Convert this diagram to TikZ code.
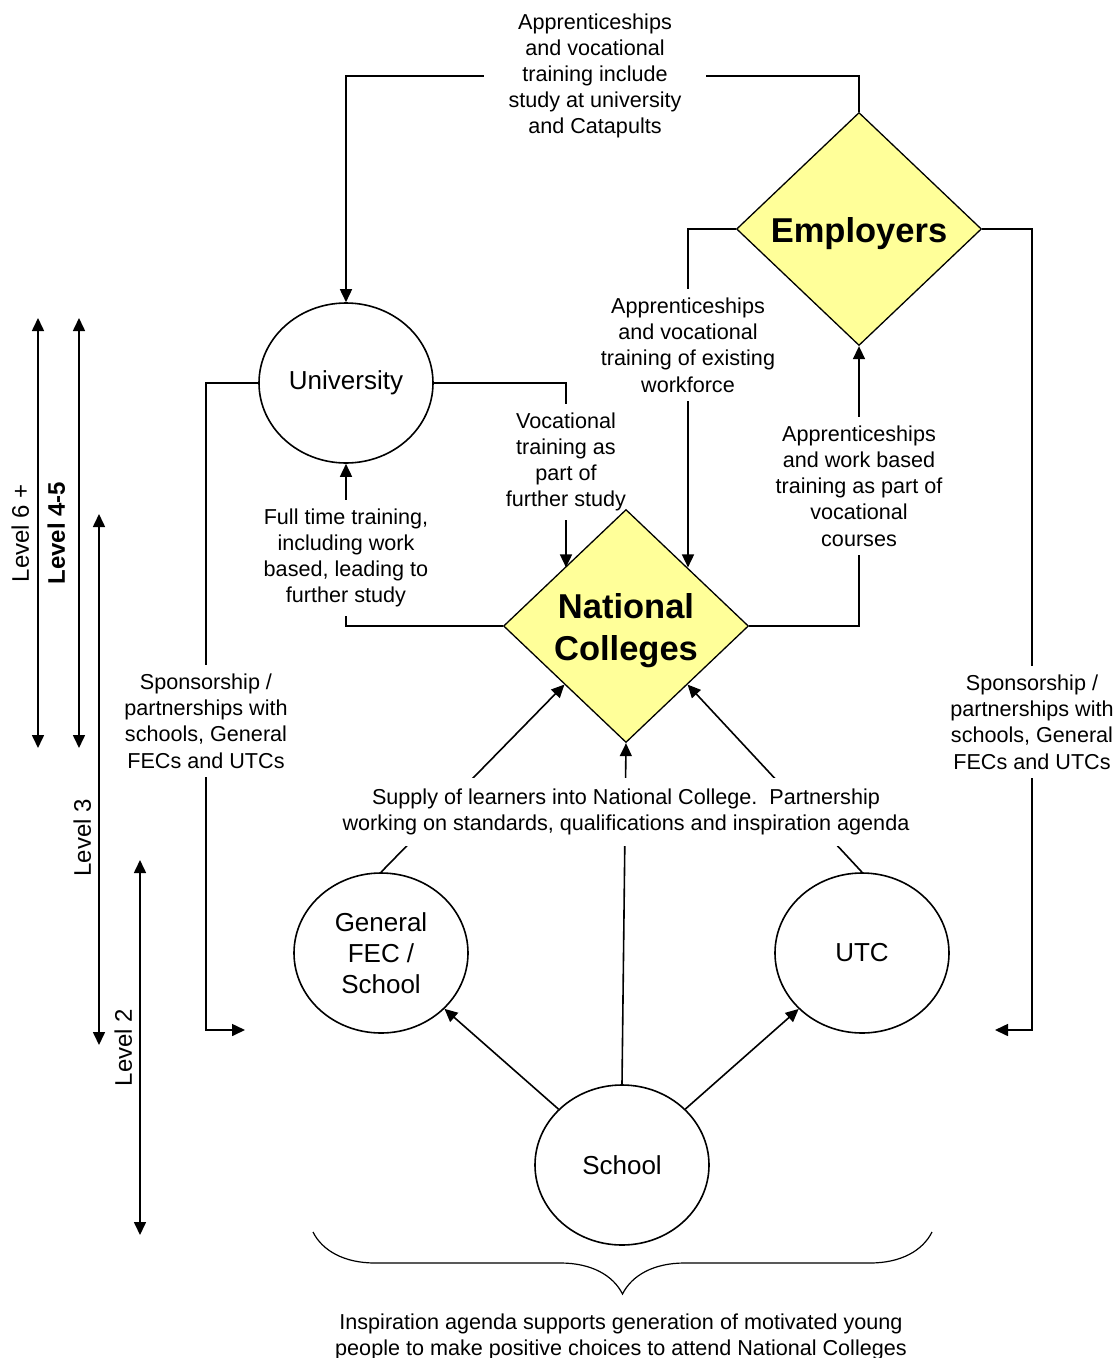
\documentclass[tikz,border=0pt]{standalone}
\usepackage{fontspec}
\setmainfont{Liberation Sans}
\definecolor{hubyellow}{RGB}{255, 255, 153}
\usetikzlibrary{shapes.geometric, arrows.meta, positioning, calc, decorations.pathreplacing}
\newcommand{\hubstrut}{\rule{0pt}{34pt}}

\begin{document}
\begin{tikzpicture}[x=1pt, y=-1pt, line width=1.6pt, >={Triangle[length=13pt, width=12pt]},
    place/.style={draw, ellipse, fill=white, minimum width=174pt, minimum height=160pt, inner sep=0pt, align=center, font=\fontsize{26}{31}\selectfont},
    hub/.style={draw, diamond, fill=hubyellow, line width=1.3pt, aspect=1.05, minimum width=245pt, minimum height=233pt, inner sep=0pt, align=center,
      font=\fontsize{34.5}{42}\selectfont\bfseries},
    lbl/.style={align=center, inner ysep=8pt, font=\fontsize{21.6}{26.2}\selectfont},
    lvl/.style={rotate=90, above, inner xsep=2pt, font=\fontsize{24}{28}\selectfont}]
  \useasboundingbox (0,0) rectangle (1118,1358);

  % main nodes
  \node[hub] (emp) at (859,229) {\hubstrut Employers};
  \node[hub] (nc) at (626,626) {\hubstrut National\\Colleges};
  \node[place] (uni) at (346,383) {University};
  \node[place] (genfec) at (381,953) {General\\FEC /\\School};
  \node[place] (utc) at (862,953) {UTC};
  \node[place] (school) at (622,1165) {School};

  % labels on the connectors
  \node[lbl, inner xsep=24pt] (toplbl) at (595,76) {Apprenticeships\\and vocational\\training include\\study at university\\and Catapults};
  \node[lbl] (work) at (688,345) {Apprenticeships\\and vocational\\training of existing\\workforce};
  \node[lbl] (voc) at (566,462) {Vocational\\training as\\part of\\further study};
  \node[lbl] (full) at (346,558) {Full time training,\\including work\\based, leading to\\further study};
  \node[lbl] (appr) at (859,486) {Apprenticeships\\and work based\\training as part of\\vocational\\courses};
  \node[lbl] (sponL) at (206,721) {Sponsorship /\\partnerships with\\schools, General\\FECs and UTCs};
  \node[lbl] (sponR) at (1032,722) {Sponsorship /\\partnerships with\\schools, General\\FECs and UTCs};
  \coordinate (endL) at (245,1030);
  \coordinate (endR) at (995,1030);

  \draw (emp.north) |- (toplbl.east);
  \draw[->] (toplbl.west) -| (uni.north);
  \draw (uni.west) -| (sponL.north);
  \draw[->] (sponL.south) |- (endL);
  \draw (emp.east) -| (sponR.north);
  \draw[->] (sponR.south) |- (endR);
  \draw (uni.east) -| (voc.north);
  \draw[->] (voc.south) -- (voc.south |- nc.north west);
  \draw (emp.west) -| (work.north);
  \draw[->] (work.south) -- (work.south |- nc.north east);
  \draw (nc.west) -| (full.south);
  \draw[->] (full.north) -- (uni.south);
  \draw (nc.east) -| (appr.south);
  \draw[->] (appr.north) -- (emp.south);

  % supply of learners
  \draw[->] (genfec.north) -- (nc.south west);
  \draw[->] (school.north) -- (nc.south);
  \draw[->] (utc.north) -- (nc.south east);
  \node[lbl, fill=white, inner ysep=11pt] (supply) at (626,812) {Supply of learners into National College.\ \ Partnership\\working on standards, qualifications and inspiration agenda};
  \draw[->] (school) -- (genfec);
  \draw[->] (school) -- (utc);

  % levels
  \foreach \x/\ya/\yb/\p/\gap/\txt in {38/318/748/0.5/8/{Level 6 +}, 79/318/748/0.5/13/{\textbf{Level 4-5}}, 99/514/1045/0.61/7/{Level 3}, 140/860/1235/0.5/7/{Level 2}}
    \draw[<->] (\x,\ya) -- (\x,\yb) node[lvl, pos=\p, inner ysep=\gap pt] {\txt};

  % inspiration agenda
  \coordinate (braceL) at (313,1232);
  \coordinate (braceR) at (932,1232);
  \draw[line width=1.2pt, decorate, decoration={brace, mirror, amplitude=62pt}] (braceL) -- (braceR);
  \node[lbl] (insp) at (621,1337) {Inspiration agenda supports generation of motivated young\\people to make positive choices to attend National Colleges};
\end{tikzpicture}
\end{document}
